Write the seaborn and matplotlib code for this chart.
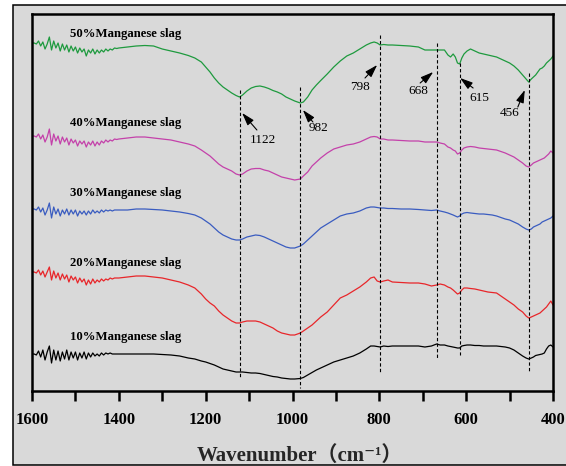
import numpy as np
import pandas as pd
import matplotlib
matplotlib.use("Agg")
import matplotlib.pyplot as plt
import seaborn as sns
from matplotlib.patches import Rectangle

# wavenumber grid: dense in the noisy high-wavenumber part, coarser after
noise_wn = np.arange(1600, 1400, -5)
smooth_wn = [1400, 1380, 1360, 1340, 1320, 1300, 1280, 1260, 1240, 1225,
             1210, 1200, 1190, 1180, 1170, 1160, 1150, 1140, 1130, 1122,
             1115, 1105, 1095, 1085, 1075, 1065, 1055, 1045, 1035, 1025,
             1015, 1005, 995, 982, 975, 965, 955, 945, 935, 920,
             905, 890, 875, 860, 845, 830, 820, 812, 805, 798,
             790, 780, 770, 750, 730, 710, 695, 680, 668, 660,
             650, 642, 636, 630, 625, 620, 615, 610, 605, 598,
             590, 580, 570, 560, 550, 540, 530, 520, 510, 500,
             490, 480, 470, 462, 456, 450, 445, 440, 435, 430,
             425, 420, 415, 410, 405, 400]
wavenumber = np.concatenate([noise_wn, smooth_wn])

# stacked spectra, offset units (bigger value = lower on the chart)
mn50 = [43, 43, 44, 41, 46, 42, 49, 44, 37, 50, 41, 48, 43, 51, 44, 50, 45, 52, 46, 51,
        47, 53, 48, 52, 49, 56, 50, 53, 49, 54, 50, 53, 50, 52, 49, 51, 49, 50, 48, 48.5,
        48, 47, 46, 45.5, 46, 49, 51, 53, 55.5, 58,
        62, 67, 72, 78, 83, 87, 90, 93, 95.5, 97,
        95, 91, 88, 86.5, 86, 87, 88.5, 90.5, 92, 94,
        97, 99, 101, 103, 102, 97, 90, 85, 80.5, 74,
        67, 61, 56, 53, 49, 45, 43, 42, 43, 45,
        44.5, 45, 45, 45.5, 46, 47, 50, 50, 50, 50,
        50, 55, 57, 54, 57, 63, 64, 58, 54, 51,
        49, 51, 53, 54, 55, 56, 57, 59, 61, 63,
        66, 70, 75, 79, 82, 79, 77, 75, 72, 69,
        68, 66, 63, 61, 59, 56]
mn40 = [136, 136, 137, 134, 139, 135, 142, 137, 129, 145, 134, 141, 136, 144, 137, 142, 138, 145, 139, 143,
        140, 146, 141, 144, 141, 147, 142, 145, 141, 146, 142, 145, 141, 143, 140, 142, 140, 141, 139, 139.5,
        139, 138, 137, 137, 138, 139, 140, 142, 144, 146,
        150, 153, 156, 160, 164, 167, 169, 171, 174, 175,
        174, 171, 169, 168.5, 168.5, 170, 171, 173, 175, 177,
        178, 179, 180, 179, 176, 172, 166, 162, 158, 153,
        149, 147, 145, 144, 142, 139, 137, 136.5, 137, 139,
        139, 140, 140, 140.5, 141, 141, 142, 142, 142, 143,
        144, 147, 148, 150, 151, 154, 153, 150, 148, 147,
        146.5, 147, 148, 148.5, 149, 149.5, 150, 151.5, 153, 155,
        157, 160, 163, 166, 167, 165, 163, 162, 161, 160,
        159, 158, 156, 154, 151, 153]
mn30 = [209, 209, 210, 207, 212, 208, 215, 210, 203, 218, 207, 214, 209, 216, 210, 214, 209, 215, 210, 214,
        210, 216, 211, 214, 211, 215, 211, 214, 210, 213, 211, 213, 210, 212, 210, 211, 210, 211, 210, 210,
        210, 210, 209, 209, 209.5, 210, 211, 212, 213.5, 215,
        218, 221, 224, 228, 232, 235, 237, 239, 240, 240,
        239, 237, 236, 235, 235.5, 237, 239, 241, 243, 245,
        247, 248, 248, 246, 244, 240, 236, 232, 228, 224,
        220, 216, 214, 213, 211, 208, 207, 207, 207.5, 208,
        208, 208.5, 208.5, 209, 209, 209.5, 210, 210.5, 210, 211,
        212, 213, 214, 215, 216, 217, 216, 214, 213, 212.5,
        213, 213.5, 214, 214, 214.5, 215, 216, 217.5, 219, 220,
        222, 224, 227, 229, 230, 229, 227, 226, 225, 224,
        222, 221, 220, 219, 218, 216]
mn20 = [272, 272, 273, 270, 275, 271, 277, 272, 267, 280, 271, 278, 273, 280, 274, 279, 275, 282, 276, 280,
        277, 283, 278, 282, 279, 285, 280, 284, 279, 283, 280, 282, 279, 281, 279, 280, 278, 279, 278, 278,
        278, 277, 276, 276, 277, 278, 280, 282, 285, 288,
        294, 299, 303, 306, 311, 315, 318, 321, 323, 323,
        322, 321, 321, 321, 322, 324, 326, 328, 331, 333,
        334, 335, 335, 333, 331, 328, 325, 321, 317, 312,
        305, 298, 295, 291, 287, 282, 278, 277, 281, 282,
        281, 280, 282, 282.5, 283, 283, 284, 286, 285, 284,
        285, 287, 288, 290, 292, 294, 293, 290, 288, 288,
        288.5, 289, 290, 291, 292, 292.5, 293, 296, 299, 302,
        305, 309, 312, 316, 318, 317, 316, 315, 314, 313,
        311, 309, 307, 304, 301, 305]
mn10 = [354, 354, 355, 351, 357, 350, 360, 352, 346, 363, 350, 360, 351, 361, 352, 359, 350, 360, 352, 358,
        352, 360, 353, 358, 352, 359, 353, 357, 353, 356, 354, 356, 353, 355, 353, 354, 353, 354, 354, 354,
        354, 354, 354, 354, 354, 354.5, 355, 356, 358, 359,
        361, 362, 363.5, 365, 367, 369, 370, 371, 372, 372,
        372, 372.5, 373, 373, 373.5, 374.5, 375.5, 376.5, 377, 378,
        378.5, 379, 379, 378.5, 377.5, 375, 372.5, 370, 368, 365,
        362, 360, 358, 356, 353, 349, 346, 346, 346.5, 347,
        346, 346.5, 346, 346, 346, 346, 347, 346, 344, 345,
        345, 346, 346.5, 347, 347.5, 348, 348, 346, 345.5, 345,
        345, 345.5, 345.5, 346, 346, 346, 346, 346.5, 347, 348,
        350, 353, 356, 358, 359, 358, 357, 355.5, 355, 354.5,
        354, 353, 349, 346, 345, 347]

samples = ["10%Manganese slag", "20%Manganese slag", "30%Manganese slag",
           "40%Manganese slag", "50%Manganese slag"]
colors = ["#000000", "#e8262a", "#3a5cc0", "#c441aa", "#1e9a3e"]
label_y = [337, 263, 193, 123, 34]

peak_wn = [1122, 982, 798, 668, 615, 456]
peak_top = [90, 87, 35, 43, 63, 73]
peak_bottom = [378, 388, 372, 359, 355, 372]
arrow_head = [(1116, 113), (976, 110), (805, 65), (676, 72), (614, 78), (465, 90)]
arrow_tail = [(1082, 130), (953, 122), (833, 78), (706, 83), (584, 88), (481, 107)]
peak_text = [(1068, 140), (939, 128), (845, 87), (711, 91), (570, 98), (499, 113)]

major_ticks = [1600, 1400, 1200, 1000, 800, 600, 400]
minor_ticks = [1500, 1300, 1100, 900, 700, 500]

df = pd.concat([
    pd.DataFrame({"wavenumber": wavenumber, "signal": vals, "sample": name})
    for name, vals in zip(samples, [mn10, mn20, mn30, mn40, mn50])
])

sns.set_theme(style="white")
plt.rcParams["font.family"] = ["Liberation Serif", "Noto Sans CJK SC", "DejaVu Serif"]
plt.rcParams["text.color"] = "black"
plt.rcParams["xtick.color"] = "black"

fig = plt.figure(figsize=(5.66, 4.66), dpi=100)
fig.patch.set_facecolor("white")
fig.add_artist(Rectangle((13 / 566, 1 / 466), 1.0, 460 / 466, transform=fig.transFigure,
                         facecolor="#d9d9d9", edgecolor="black", linewidth=1.1, zorder=-10))

ax = fig.add_axes([32 / 566, 75 / 466, 521 / 566, 377 / 466])
ax.set_facecolor("#d9d9d9")

sns.lineplot(data=df, x="wavenumber", y="signal", hue="sample", hue_order=samples,
             palette=colors, sort=False, estimator=None, linewidth=0.9, legend=False, ax=ax)

for name, y in zip(samples, label_y):
    ax.text(1513, y, name, fontsize=9.2, fontweight="bold", ha="left", va="center")

ax.vlines(peak_wn, peak_top, peak_bottom, colors="black", linestyles=(0, (3, 2)), linewidth=0.8)

# peak markers: arrow drawn on its own, number placed under the arrow tail
for wn, head, tail, txt in zip(peak_wn, arrow_head, arrow_tail, peak_text):
    ax.annotate("", xy=head, xytext=tail,
                arrowprops=dict(arrowstyle="-|>,head_length=0.7,head_width=0.22",
                                color="black", lw=0.8, shrinkA=0, shrinkB=0,
                                mutation_scale=11))
    ax.text(txt[0], txt[1], str(wn), fontsize=9.5, ha="center", va="center")

ax.set_xlim(1600, 400)
ax.set_ylim(391, 14)
ax.set_xticks(major_ticks, [str(t) for t in major_ticks], fontsize=12, fontweight="bold")
ax.set_xticks(minor_ticks, minor=True)
ax.tick_params(axis="x", which="both", direction="out", length=7, width=1.8, pad=8,
               bottom=True, colors="black")
ax.tick_params(axis="y", left=False, labelleft=False)
ax.set_ylabel("")
ax.set_xlabel("Wavenumber（cm⁻¹）", fontsize=15, fontweight="bold")
ax.xaxis.set_label_coords(0.514, -0.146)
for s in ax.spines.values():
    s.set_linewidth(1.8)
    s.set_color("black")

fig.savefig("out.png", dpi=100, facecolor=fig.get_facecolor())
